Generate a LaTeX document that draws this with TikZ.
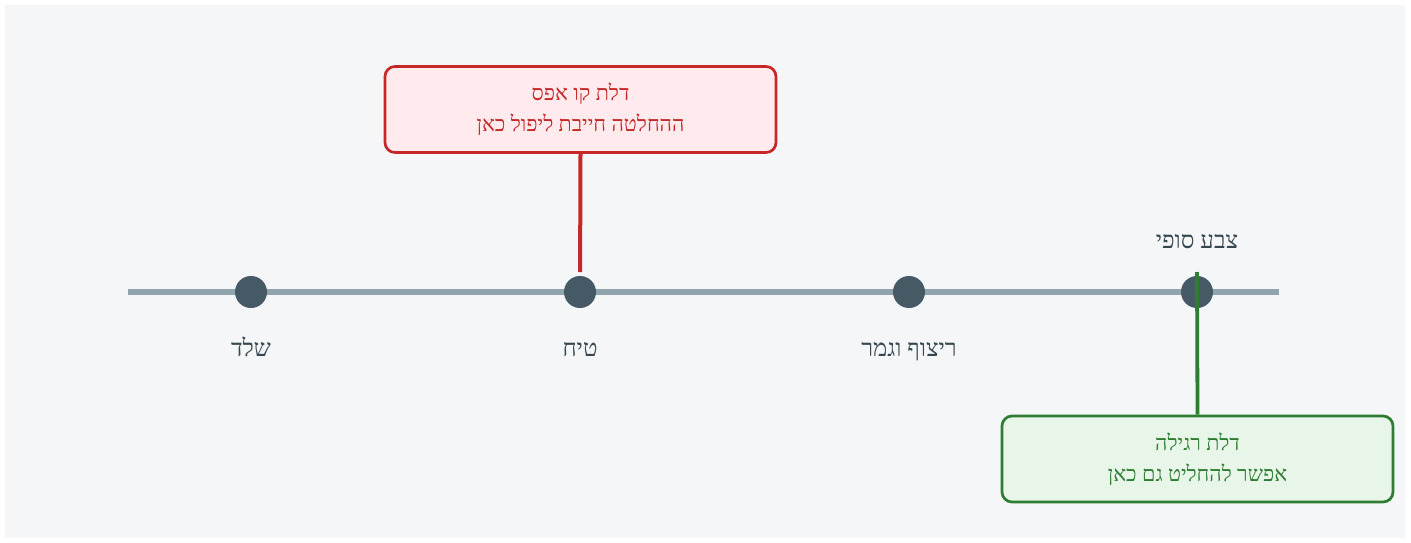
\documentclass[tikz,border=0pt]{standalone}
\usepackage{fontspec}
\setmainfont{Liberation Serif}
\TeXXeTstate=1
\definecolor{bgc}{HTML}{F4F6F8}
\definecolor{linec}{HTML}{90A4AE}
\definecolor{dotc}{HTML}{455A64}
\definecolor{txtc}{HTML}{37474F}
\definecolor{redc}{HTML}{C62828}
\definecolor{redf}{HTML}{FFEBEE}
\definecolor{greenc}{HTML}{2E7D32}
\definecolor{greenf}{HTML}{E8F5E9}
\begin{document}
\begin{tikzpicture}[x=1pt,y=-1pt,
  dotn/.style={circle,fill=dotc,inner sep=0pt,minimum size=32pt},
  lbl/.style={text=txtc,font=\fontsize{24}{28}\selectfont,inner sep=0pt,anchor=base},
  callout/.style={draw,rounded corners=10pt,line width=2.7pt,minimum width=391pt,minimum height=86pt,align=center,font=\fontsize{21.5}{31}\selectfont,inner sep=0pt}]
\useasboundingbox (0,0) rectangle (1411,543);
\fill[white] (0,0) rectangle (1411,543);
\fill[bgc] (5,5) rectangle (1405,538);
\coordinate (L) at (128,292);
\coordinate (R) at (1279,292);
\draw[linec,line width=6pt] (L) -- (R);
\node[dotn] (d1) at (251,292) {};
\node[dotn] (d2) at (580,292) {};
\node[dotn] (d3) at (909,292) {};
\node[dotn] (d4) at (1197,292) {};
\node[lbl] (l1) at (251,356) {\beginR שלד\endR};
\node[lbl] (l2) at (580,356) {\beginR טיח\endR};
\node[lbl] (l3) at (909,356) {\beginR ריצוף וגמר\endR};
\node[lbl] (l4) at (1197,248) {\beginR צבע סופי\endR};
\node[callout,draw=redc,fill=redf,text=redc] (rb) at (580.5,109.5) {\beginR דלת קו אפס\endR\\\beginR ההחלטה חייבת ליפול כאן\endR};
\node[callout,draw=greenc,fill=greenf,text=greenc] (gb) at (1197.5,459) {\beginR דלת רגילה\endR\\\beginR אפשר להחליט גם כאן\endR};
\draw[redc,line width=4pt,shorten >=20pt] (rb.south) -- (d2.center);
\coordinate (gt) at (1197,272);
\draw[greenc,line width=3.8pt] (gt) -- (gb.north);
\end{tikzpicture}
\end{document}
